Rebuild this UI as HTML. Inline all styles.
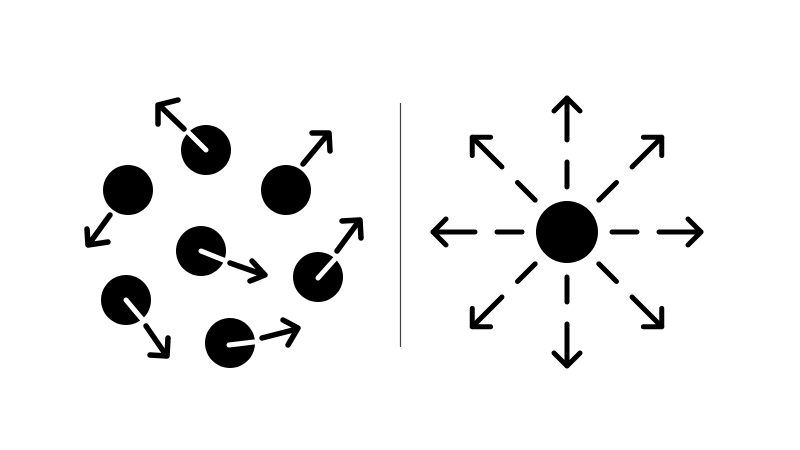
<!DOCTYPE html>
<html><head><meta charset="utf-8"><style>html,body{margin:0;padding:0;background:#fff}svg{display:block}</style></head>
<body>
<svg width="800" height="450" viewBox="0 0 800 450" xmlns="http://www.w3.org/2000/svg">
<rect width="800" height="450" fill="#fff"/>
<line x1="400.5" y1="103" x2="400.5" y2="347" stroke="#444" stroke-width="1.2"/>
<g fill="#000">
<circle cx="206" cy="150" r="25"/>
<circle cx="128" cy="190" r="25"/>
<circle cx="286" cy="190" r="25"/>
<circle cx="201" cy="251" r="25"/>
<circle cx="318" cy="277" r="25"/>
<circle cx="126" cy="300" r="25"/>
<circle cx="230" cy="343" r="25"/>
</g>
<g stroke="#fff" stroke-width="5" stroke-linecap="round" fill="none">
<line x1="206" y1="150" x2="186" y2="130"/>
<line x1="201" y1="251" x2="226" y2="261"/>
<line x1="318" y1="278" x2="335" y2="259"/>
<line x1="126" y1="300" x2="142" y2="319"/>
<line x1="229" y1="345" x2="254" y2="342"/>
</g>
<g stroke="#000" stroke-width="5.5" stroke-linecap="round" stroke-linejoin="round" fill="none">
<!-- 1 -->
<line x1="184" y1="129" x2="159" y2="105"/>
<polyline points="178,100 158,105 158,124"/>
<!-- 2 -->
<line x1="110" y1="215" x2="89" y2="244"/>
<polyline points="87,229 88,245 108,242"/>
<!-- 3 -->
<line x1="303" y1="164" x2="328" y2="134"/>
<polyline points="312,133 329,133 330,151"/>
<!-- 4 -->
<line x1="230" y1="263" x2="264" y2="275"/>
<polyline points="252,261 265,275 250,281"/>
<!-- 5 -->
<line x1="337" y1="251" x2="359" y2="221"/>
<polyline points="342,221 360,220 361,238"/>
<!-- 6 -->
<line x1="146" y1="326" x2="166" y2="355"/>
<polyline points="150,355 167,356 168,338"/>
<!-- 7 -->
<line x1="262" y1="338" x2="297" y2="329"/>
<polyline points="283,320 298,328 288,345"/>
</g>
<circle cx="567" cy="232" r="31" fill="#000"/>
<g stroke="#000" stroke-width="5" stroke-linecap="round" stroke-linejoin="round" fill="none">
<g id="ray">
<line x1="612" y1="232" x2="637" y2="232"/>
<line x1="659" y1="232" x2="701" y2="232"/>
<polyline points="688,219 701,232 688,245"/>
</g>
<use href="#ray" transform="rotate(45 567 232)"/>
<use href="#ray" transform="rotate(90 567 232)"/>
<use href="#ray" transform="rotate(135 567 232)"/>
<use href="#ray" transform="rotate(180 567 232)"/>
<use href="#ray" transform="rotate(225 567 232)"/>
<use href="#ray" transform="rotate(270 567 232)"/>
<use href="#ray" transform="rotate(315 567 232)"/>
</g>
</svg>
</body></html>
